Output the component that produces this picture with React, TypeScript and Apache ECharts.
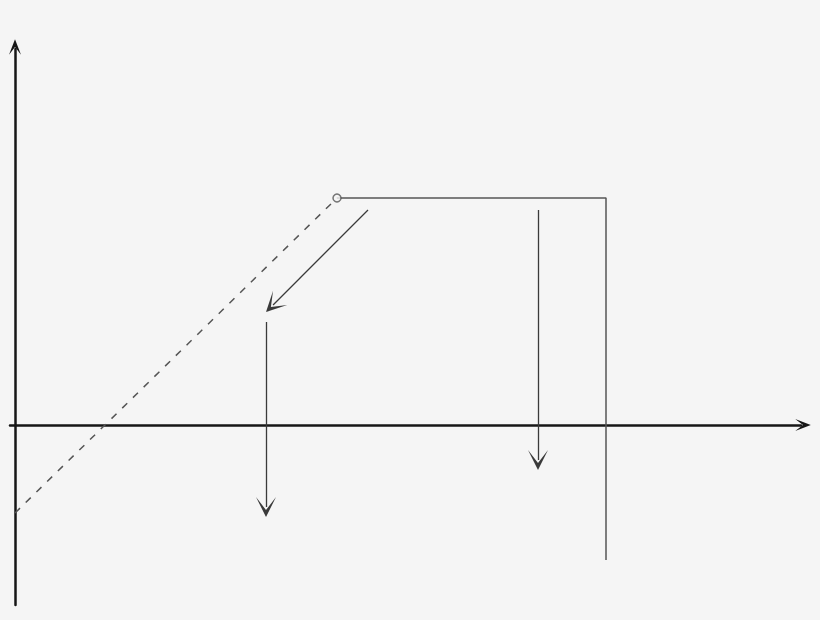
import React, { useEffect, useRef } from 'react';
import * as echarts from 'echarts';

// axis extents (data units, same scale on both axes)
const xRange = [-0.5, 78.6];
const yRange = [-18, 37.6];

// dashed lead-in line up to the open circle
const dashedLine = [
  [0, -8.8],
  [32.2, 22.7],
];
// solid path: flat top, then straight down
const solidLine = [
  [32.2, 22.7],
  [59.1, 22.7],
  [59.1, -13.5],
];
const openPoint = [[32.2, 22.7]];

// arrows: [from, tip]
const arrows = [
  [[35.3, 21.5], [25.1, 11.3]],
  [[25.1, 10.3], [25.1, -9.2]],
  [[52.3, 21.5], [52.3, -4.5]],
];

const headLen = 2; // arrow head length in data units (20px symbol, centred on the end)

const axisArrow = 'path://M5,0 L10,13 L5,6.5 L0,13 Z';
const thinArrow = 'path://M5,0 L10,13 L5,4.5 L0,13 Z';

// the symbol is centred on the line end, so pull the end back by half a head
function toCentre(from: number[], tip: number[]) {
  const dx = tip[0] - from[0];
  const dy = tip[1] - from[1];
  const len = Math.sqrt(dx * dx + dy * dy);
  const k = headLen / 2 / len;
  return [from, [tip[0] - dx * k, tip[1] - dy * k]];
}

const App: React.FC = () => {
  const chartRef = useRef<HTMLDivElement>(null);

  useEffect(() => {
    if (!chartRef.current) return;
    const myChart = echarts.init(chartRef.current, undefined, { renderer: 'svg' });

    const axisCommon = {
      type: 'value' as const,
      axisLine: {
        show: true,
        onZero: true,
        symbol: ['none', axisArrow],
        symbolSize: [12, 18],
        symbolOffset: [0, 2],
        lineStyle: { color: '#161616', width: 2.5 },
      },
      axisTick: { show: false },
      axisLabel: { show: false },
      splitLine: { show: false },
    };

    const option: echarts.EChartsOption = {
      animation: false,
      backgroundColor: '#f5f5f5',
      grid: { left: 10, right: 19, top: 49, bottom: 15 },
      xAxis: { ...axisCommon, min: xRange[0], max: xRange[1] },
      yAxis: { ...axisCommon, min: yRange[0], max: yRange[1] },
      series: [
        {
          type: 'line',
          data: dashedLine,
          symbol: 'none',
          lineStyle: { color: '#555', width: 1.5, type: [7, 8] },
        },
        {
          type: 'line',
          data: solidLine,
          symbol: 'none',
          lineStyle: { color: '#555', width: 1.5 },
        },
        {
          type: 'lines',
          coordinateSystem: 'cartesian2d',
          symbol: ['none', thinArrow],
          symbolSize: [10, 20],
          lineStyle: { color: '#3a3a3a', width: 1.3, opacity: 1 },
          data: arrows.map(([from, tip]) => ({ coords: toCentre(from, tip) })),
        },
        {
          type: 'scatter',
          data: openPoint,
          symbol: 'circle',
          symbolSize: 8,
          itemStyle: { color: '#f5f5f5', borderColor: '#555', borderWidth: 1.5 },
          z: 5,
        },
      ],
    };

    myChart.setOption(option);
    return () => {
      myChart.dispose();
    };
  }, []);

  return (
    <div
      ref={chartRef}
      style={{ position: 'fixed', left: 0, top: 0, width: 820, height: 620 }}
    />
  );
};

export default App;
